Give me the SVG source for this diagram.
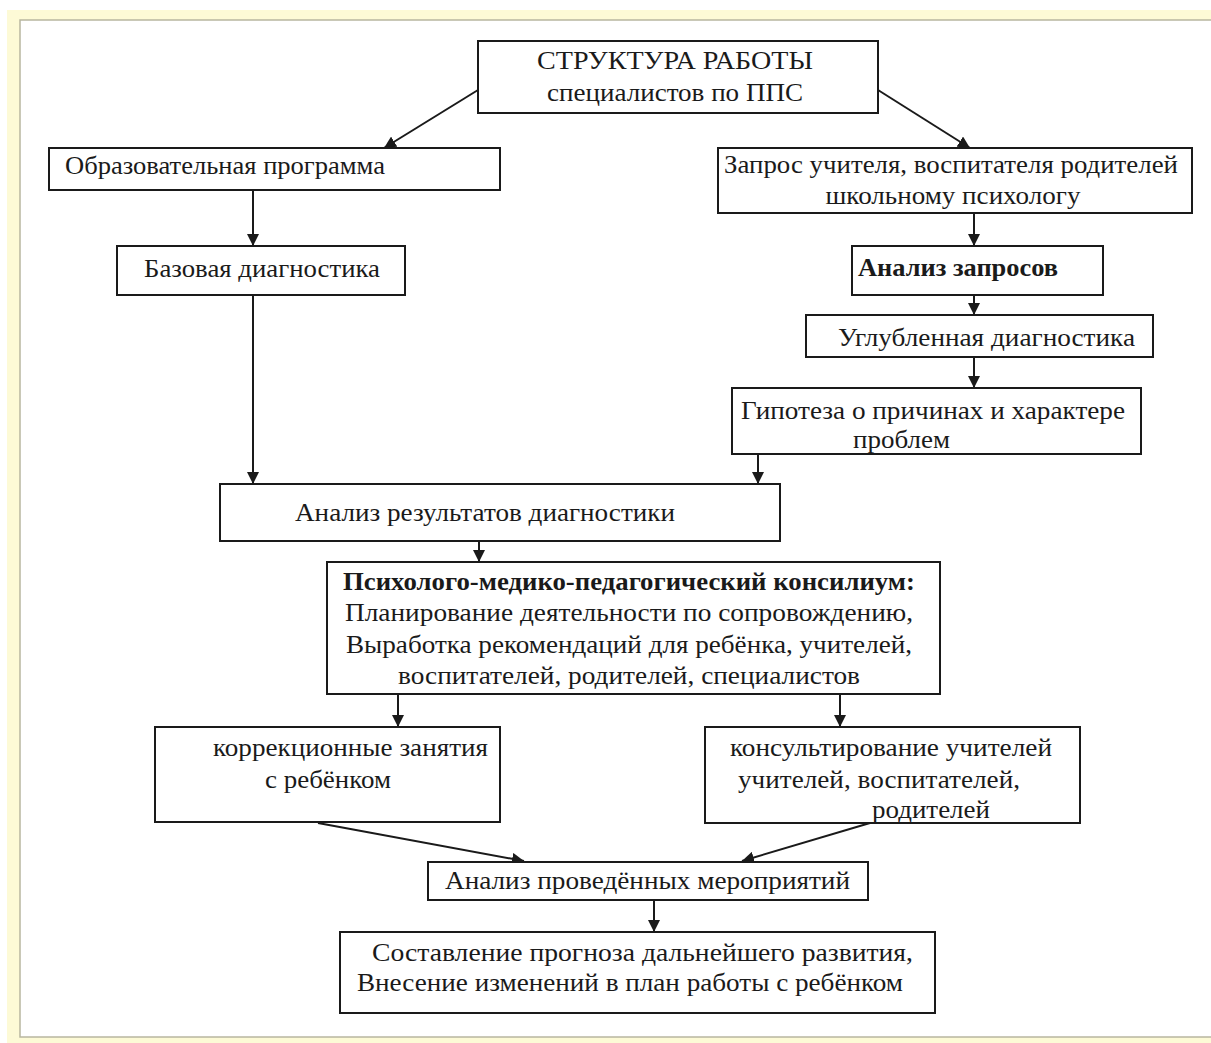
<svg xmlns="http://www.w3.org/2000/svg" width="1211" height="1043" viewBox="0 0 1211 1043">
<defs>
<style>
.box{fill:#ffffff;stroke:#1a1a1a;stroke-width:2}
.t{font-family:"Liberation Serif","Times New Roman",serif;font-size:25px;fill:#1a1a1a}
.b{font-weight:bold}
.ln{stroke:#1a1a1a;stroke-width:2;fill:none;marker-end:url(#ah)}
</style>
<marker id="ah" markerUnits="userSpaceOnUse" markerWidth="12" markerHeight="12" viewBox="0 0 12 12" refX="12" refY="6" orient="auto">
<path d="M0,0 L12,6 L0,12 Z" fill="#1a1a1a"/>
</marker>
</defs>
<rect x="0" y="0" width="1211" height="1043" fill="#ffffff"/>
<rect x="7" y="10" width="1204" height="1033" fill="#fdfad6"/>
<rect x="20" y="20" width="1195" height="1017" fill="#ffffff" stroke="#b8b6a0" stroke-width="1.5"/>

<g id="connectors">
<line class="ln" x1="478" y1="90" x2="384" y2="148"/>
<line class="ln" x1="878" y1="90" x2="970" y2="148"/>
<line class="ln" x1="253" y1="190" x2="253" y2="246"/>
<line class="ln" x1="253" y1="295" x2="253" y2="484"/>
<line class="ln" x1="974" y1="213" x2="974" y2="246"/>
<line class="ln" x1="974" y1="295" x2="974" y2="315"/>
<line class="ln" x1="974" y1="357" x2="974" y2="388"/>
<line class="ln" x1="758" y1="454" x2="758" y2="484"/>
<line class="ln" x1="479" y1="541" x2="479" y2="562"/>
<line class="ln" x1="398" y1="694" x2="398" y2="727"/>
<line class="ln" x1="840" y1="694" x2="840" y2="727"/>
<line class="ln" x1="318" y1="823" x2="524" y2="861"/>
<line class="ln" x1="870" y1="823" x2="742" y2="861"/>
<line class="ln" x1="654" y1="900" x2="654" y2="932"/>
</g>

<g id="n-title">
<rect class="box" x="478" y="41" width="400" height="72"/>
<text class="t" x="675" y="69" text-anchor="middle" textLength="276" lengthAdjust="spacingAndGlyphs">СТРУКТУРА  РАБОТЫ</text>
<text class="t" x="675" y="101" text-anchor="middle" textLength="256" lengthAdjust="spacingAndGlyphs">специалистов по ППС</text>
</g>

<g id="n-obr">
<rect class="box" x="49" y="148" width="451" height="42"/>
<text class="t" x="65" y="174" textLength="320" lengthAdjust="spacingAndGlyphs">Образовательная программа</text>
</g>

<g id="n-zapros">
<rect class="box" x="718" y="148" width="474" height="65"/>
<text class="t" x="724" y="173" textLength="454" lengthAdjust="spacingAndGlyphs">Запрос учителя, воспитателя родителей</text>
<text class="t" x="953" y="204" text-anchor="middle" textLength="255" lengthAdjust="spacingAndGlyphs">школьному психологу</text>
</g>

<g id="n-baz">
<rect class="box" x="117" y="246" width="288" height="49"/>
<text class="t" x="144" y="277" textLength="236" lengthAdjust="spacingAndGlyphs">Базовая диагностика</text>
</g>

<g id="n-analiz-zapr">
<rect class="box" x="852" y="246" width="251" height="49"/>
<text class="t b" x="858" y="276" textLength="200" lengthAdjust="spacingAndGlyphs">Анализ запросов</text>
</g>

<g id="n-uglub">
<rect class="box" x="806" y="315" width="347" height="42"/>
<text class="t" x="838" y="346" textLength="297" lengthAdjust="spacingAndGlyphs">Углубленная диагностика</text>
</g>

<g id="n-gipoteza">
<rect class="box" x="732" y="388" width="409" height="66"/>
<text class="t" x="741" y="419" textLength="384" lengthAdjust="spacingAndGlyphs">Гипотеза о причинах и характере</text>
<text class="t" x="853" y="448" textLength="97" lengthAdjust="spacingAndGlyphs">проблем</text>
</g>

<g id="n-analiz-rez">
<rect class="box" x="220" y="484" width="560" height="57"/>
<text class="t" x="295" y="521" textLength="380" lengthAdjust="spacingAndGlyphs">Анализ результатов диагностики</text>
</g>

<g id="n-pmpk">
<rect class="box" x="327" y="562" width="613" height="132"/>
<text class="t b" x="629" y="590" text-anchor="middle" textLength="572" lengthAdjust="spacingAndGlyphs">Психолого-медико-педагогический  консилиум:</text>
<text class="t" x="629" y="621" text-anchor="middle" textLength="568" lengthAdjust="spacingAndGlyphs">Планирование деятельности по сопровождению,</text>
<text class="t" x="629" y="653" text-anchor="middle" textLength="566" lengthAdjust="spacingAndGlyphs">Выработка рекомендаций для ребёнка, учителей,</text>
<text class="t" x="629" y="684" text-anchor="middle" textLength="462" lengthAdjust="spacingAndGlyphs">воспитателей, родителей, специалистов</text>
</g>

<g id="n-korr">
<rect class="box" x="155" y="727" width="345" height="95"/>
<text class="t" x="213" y="756" textLength="275" lengthAdjust="spacingAndGlyphs">коррекционные занятия</text>
<text class="t" x="265" y="788" textLength="126" lengthAdjust="spacingAndGlyphs">с ребёнком</text>
</g>

<g id="n-kons">
<rect class="box" x="705" y="727" width="375" height="96"/>
<text class="t" x="730" y="756" textLength="322" lengthAdjust="spacingAndGlyphs">консультирование учителей</text>
<text class="t" x="738" y="788" textLength="282" lengthAdjust="spacingAndGlyphs">учителей, воспитателей,</text>
<text class="t" x="872" y="818" textLength="118" lengthAdjust="spacingAndGlyphs">родителей</text>
</g>

<g id="n-analiz-mer">
<rect class="box" x="428" y="862" width="440" height="38"/>
<text class="t" x="445" y="889" textLength="405" lengthAdjust="spacingAndGlyphs">Анализ проведённых мероприятий</text>
</g>

<g id="n-prognoz">
<rect class="box" x="340" y="932" width="595" height="81"/>
<text class="t" x="372" y="961" textLength="541" lengthAdjust="spacingAndGlyphs">Составление прогноза дальнейшего развития,</text>
<text class="t" x="357" y="991" textLength="546" lengthAdjust="spacingAndGlyphs">Внесение изменений в план работы с ребёнком</text>
</g>
</svg>
